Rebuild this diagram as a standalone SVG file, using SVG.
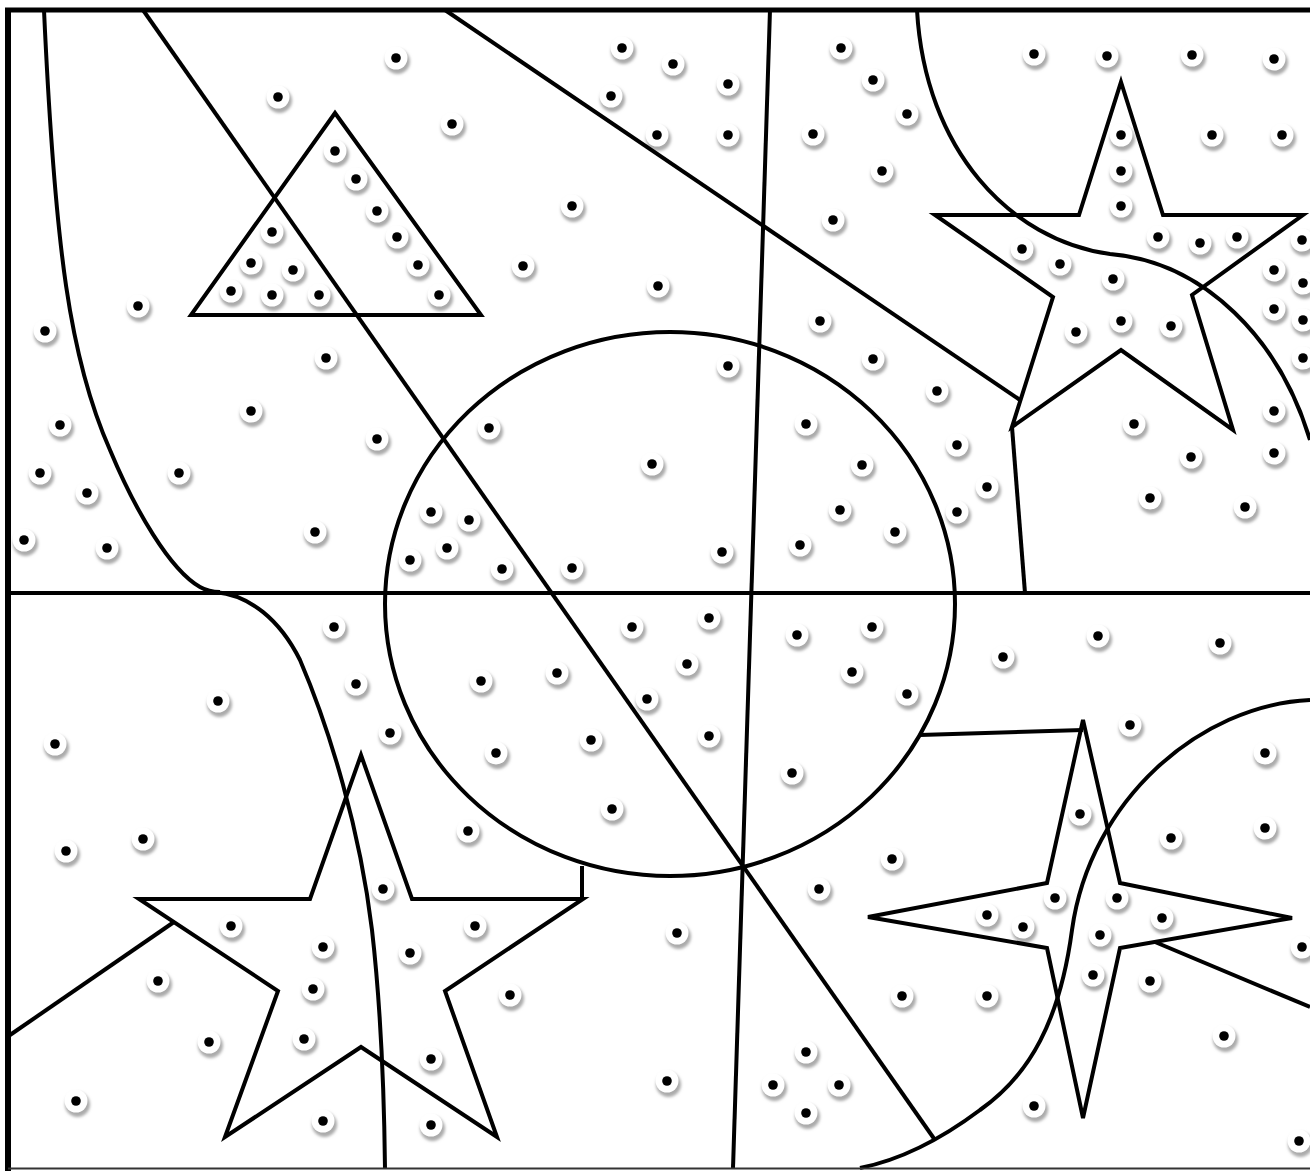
<svg xmlns="http://www.w3.org/2000/svg" xmlns:xlink="http://www.w3.org/1999/xlink" width="1310" height="1171" viewBox="0 0 1310 1171">
<defs>
<style>
.ln{fill:none;stroke:#000;stroke-width:4;stroke-linejoin:miter;stroke-linecap:butt}
</style>
<filter id="bl" x="-50%" y="-50%" width="200%" height="200%"><feGaussianBlur stdDeviation="1.8"/></filter>
<g id="d">
<circle cx="1.5" cy="3.5" r="12.5" fill="#aaaaaa" filter="url(#bl)"/>
<circle cx="0" cy="0" r="11.5" fill="#fff"/>
<circle cx="0" cy="0" r="4.8" fill="#000"/>
</g>
</defs>
<rect width="1310" height="1171" fill="#fff"/>
<g id="dots">
<use xlink:href="#d" x="396" y="58"/><use xlink:href="#d" x="278" y="97"/><use xlink:href="#d" x="452" y="124"/><use xlink:href="#d" x="138" y="306"/><use xlink:href="#d" x="45" y="331"/><use xlink:href="#d" x="326" y="358"/><use xlink:href="#d" x="251" y="411"/><use xlink:href="#d" x="60" y="425"/><use xlink:href="#d" x="377" y="439"/><use xlink:href="#d" x="40" y="473"/><use xlink:href="#d" x="87" y="493"/><use xlink:href="#d" x="179" y="473"/><use xlink:href="#d" x="24" y="540"/><use xlink:href="#d" x="107" y="548"/><use xlink:href="#d" x="315" y="532"/>
<use xlink:href="#d" x="335" y="151"/><use xlink:href="#d" x="356" y="179"/><use xlink:href="#d" x="377" y="211"/><use xlink:href="#d" x="397" y="237"/><use xlink:href="#d" x="418" y="265"/><use xlink:href="#d" x="439" y="295"/><use xlink:href="#d" x="272" y="232"/><use xlink:href="#d" x="251" y="263"/><use xlink:href="#d" x="293" y="270"/><use xlink:href="#d" x="231" y="291"/><use xlink:href="#d" x="272" y="295"/><use xlink:href="#d" x="319" y="295"/>
<use xlink:href="#d" x="622" y="48"/><use xlink:href="#d" x="673" y="64"/><use xlink:href="#d" x="728" y="84"/><use xlink:href="#d" x="611" y="96"/><use xlink:href="#d" x="657" y="135"/><use xlink:href="#d" x="728" y="135"/><use xlink:href="#d" x="572" y="206"/><use xlink:href="#d" x="523" y="266"/><use xlink:href="#d" x="658" y="286"/><use xlink:href="#d" x="728" y="366"/>
<use xlink:href="#d" x="489" y="428"/><use xlink:href="#d" x="652" y="464"/><use xlink:href="#d" x="431" y="512"/><use xlink:href="#d" x="469" y="520"/><use xlink:href="#d" x="447" y="548"/><use xlink:href="#d" x="410" y="560"/><use xlink:href="#d" x="502" y="569"/><use xlink:href="#d" x="572" y="568"/><use xlink:href="#d" x="722" y="552"/>
<use xlink:href="#d" x="841" y="48"/><use xlink:href="#d" x="873" y="80"/><use xlink:href="#d" x="907" y="114"/><use xlink:href="#d" x="813" y="134"/><use xlink:href="#d" x="882" y="171"/><use xlink:href="#d" x="833" y="220"/><use xlink:href="#d" x="820" y="321"/><use xlink:href="#d" x="873" y="359"/><use xlink:href="#d" x="937" y="391"/><use xlink:href="#d" x="957" y="445"/><use xlink:href="#d" x="987" y="487"/><use xlink:href="#d" x="957" y="512"/><use xlink:href="#d" x="806" y="424"/><use xlink:href="#d" x="862" y="465"/><use xlink:href="#d" x="840" y="510"/><use xlink:href="#d" x="895" y="532"/><use xlink:href="#d" x="800" y="545"/>
<use xlink:href="#d" x="1034" y="54"/><use xlink:href="#d" x="1107" y="56"/><use xlink:href="#d" x="1192" y="55"/><use xlink:href="#d" x="1274" y="59"/><use xlink:href="#d" x="1212" y="135"/><use xlink:href="#d" x="1282" y="135"/><use xlink:href="#d" x="1121" y="135"/><use xlink:href="#d" x="1121" y="171"/><use xlink:href="#d" x="1121" y="206"/><use xlink:href="#d" x="1158" y="237"/><use xlink:href="#d" x="1200" y="243"/><use xlink:href="#d" x="1237" y="237"/><use xlink:href="#d" x="1302" y="240"/><use xlink:href="#d" x="1022" y="249"/><use xlink:href="#d" x="1060" y="264"/><use xlink:href="#d" x="1113" y="279"/><use xlink:href="#d" x="1121" y="321"/><use xlink:href="#d" x="1076" y="332"/><use xlink:href="#d" x="1171" y="326"/><use xlink:href="#d" x="1274" y="270"/><use xlink:href="#d" x="1303" y="283"/><use xlink:href="#d" x="1274" y="309"/><use xlink:href="#d" x="1303" y="320"/><use xlink:href="#d" x="1303" y="358"/><use xlink:href="#d" x="1274" y="411"/><use xlink:href="#d" x="1274" y="453"/><use xlink:href="#d" x="1134" y="424"/><use xlink:href="#d" x="1191" y="457"/><use xlink:href="#d" x="1150" y="498"/><use xlink:href="#d" x="1245" y="507"/>
<use xlink:href="#d" x="334" y="627"/><use xlink:href="#d" x="356" y="684"/><use xlink:href="#d" x="218" y="701"/><use xlink:href="#d" x="55" y="744"/><use xlink:href="#d" x="390" y="733"/><use xlink:href="#d" x="481" y="681"/><use xlink:href="#d" x="557" y="673"/><use xlink:href="#d" x="496" y="753"/><use xlink:href="#d" x="591" y="740"/><use xlink:href="#d" x="468" y="831"/><use xlink:href="#d" x="66" y="851"/><use xlink:href="#d" x="143" y="839"/><use xlink:href="#d" x="383" y="889"/><use xlink:href="#d" x="231" y="926"/><use xlink:href="#d" x="323" y="947"/><use xlink:href="#d" x="475" y="926"/><use xlink:href="#d" x="410" y="953"/><use xlink:href="#d" x="313" y="989"/><use xlink:href="#d" x="158" y="981"/><use xlink:href="#d" x="510" y="995"/><use xlink:href="#d" x="304" y="1039"/><use xlink:href="#d" x="209" y="1042"/><use xlink:href="#d" x="431" y="1059"/><use xlink:href="#d" x="76" y="1101"/><use xlink:href="#d" x="323" y="1121"/><use xlink:href="#d" x="431" y="1125"/>
<use xlink:href="#d" x="632" y="627"/><use xlink:href="#d" x="709" y="618"/><use xlink:href="#d" x="687" y="664"/><use xlink:href="#d" x="647" y="699"/><use xlink:href="#d" x="709" y="736"/><use xlink:href="#d" x="612" y="809"/><use xlink:href="#d" x="797" y="635"/><use xlink:href="#d" x="872" y="627"/><use xlink:href="#d" x="852" y="672"/><use xlink:href="#d" x="907" y="694"/><use xlink:href="#d" x="792" y="773"/><use xlink:href="#d" x="892" y="859"/><use xlink:href="#d" x="819" y="889"/><use xlink:href="#d" x="677" y="933"/><use xlink:href="#d" x="902" y="996"/><use xlink:href="#d" x="987" y="996"/><use xlink:href="#d" x="806" y="1052"/><use xlink:href="#d" x="773" y="1085"/><use xlink:href="#d" x="839" y="1085"/><use xlink:href="#d" x="806" y="1113"/><use xlink:href="#d" x="667" y="1081"/>
<use xlink:href="#d" x="1003" y="657"/><use xlink:href="#d" x="1098" y="636"/><use xlink:href="#d" x="1220" y="643"/><use xlink:href="#d" x="1130" y="725"/><use xlink:href="#d" x="1265" y="753"/><use xlink:href="#d" x="1080" y="814"/><use xlink:href="#d" x="1171" y="838"/><use xlink:href="#d" x="1265" y="828"/><use xlink:href="#d" x="1055" y="898"/><use xlink:href="#d" x="1117" y="898"/><use xlink:href="#d" x="1162" y="918"/><use xlink:href="#d" x="1023" y="927"/><use xlink:href="#d" x="987" y="915"/><use xlink:href="#d" x="1100" y="935"/><use xlink:href="#d" x="1093" y="975"/><use xlink:href="#d" x="1150" y="981"/><use xlink:href="#d" x="1302" y="947"/><use xlink:href="#d" x="1224" y="1036"/><use xlink:href="#d" x="1034" y="1106"/><use xlink:href="#d" x="1299" y="1141"/>
</g>
<g id="shapes">
<polygon id="triangle" class="ln" points="335,113 481,315 191,315"/>
<ellipse id="circle-center" class="ln" cx="670" cy="604" rx="285" ry="272"/>
<polygon id="star-top-right" class="ln" points="1121,82 1163,215 1303,215 1192,295 1233,430 1121,350 1012,427 1053,297 935,215 1079,215"/>
<polygon id="star-bottom-left" class="ln" points="361,755 412,899 583,899 445,991 497,1137 361,1047 225,1137 278,991 139,899 310,899"/>
<polygon id="star-four" class="ln" points="1083,720 1120,883 1292,918 1120,948 1083,1118 1047,948 868,917 1047,883"/>
</g>
<g id="lines">
<path class="ln" d="M44,10 C55,250 70,360 110,450 C135,510 170,570 200,587 C207,591 212,592 220,592"/>
<path class="ln" d="M215,592 C250,595 280,620 300,660 C330,730 360,830 372,930 C380,1000 384,1080 385,1168"/>
<line class="ln" x1="143" y1="10" x2="935" y2="1140"/>
<line class="ln" x1="770" y1="10" x2="733" y2="1168"/>
<line class="ln" x1="445" y1="10" x2="1020" y2="400"/>
<line class="ln" x1="1012" y1="427" x2="1025" y2="593"/>
<path class="ln" d="M917,10 C925,150 1010,240 1110,254 C1205,262 1280,340 1310,440"/>
<path class="ln" d="M1310,700 C1200,705 1090,800 1072,930 C1060,1020 1030,1075 980,1110 C940,1140 900,1160 860,1168"/>
<line class="ln" x1="582" y1="866" x2="582" y2="899"/>
<line class="ln" x1="10" y1="1035" x2="174" y2="922"/>
<line class="ln" x1="920" y1="735" x2="1083" y2="730"/>
<line class="ln" x1="1155" y1="942" x2="1310" y2="1007"/>
<line class="ln" x1="8" y1="593" x2="1310" y2="593"/>
</g>
<g id="frame">
<line x1="8" y1="8" x2="8" y2="1171" stroke="#000" stroke-width="6"/>
<line x1="5" y1="10" x2="1310" y2="10" stroke="#000" stroke-width="5"/>
<line x1="8" y1="1168.5" x2="1310" y2="1168.5" stroke="#333" stroke-width="2"/>
</g>
</svg>
